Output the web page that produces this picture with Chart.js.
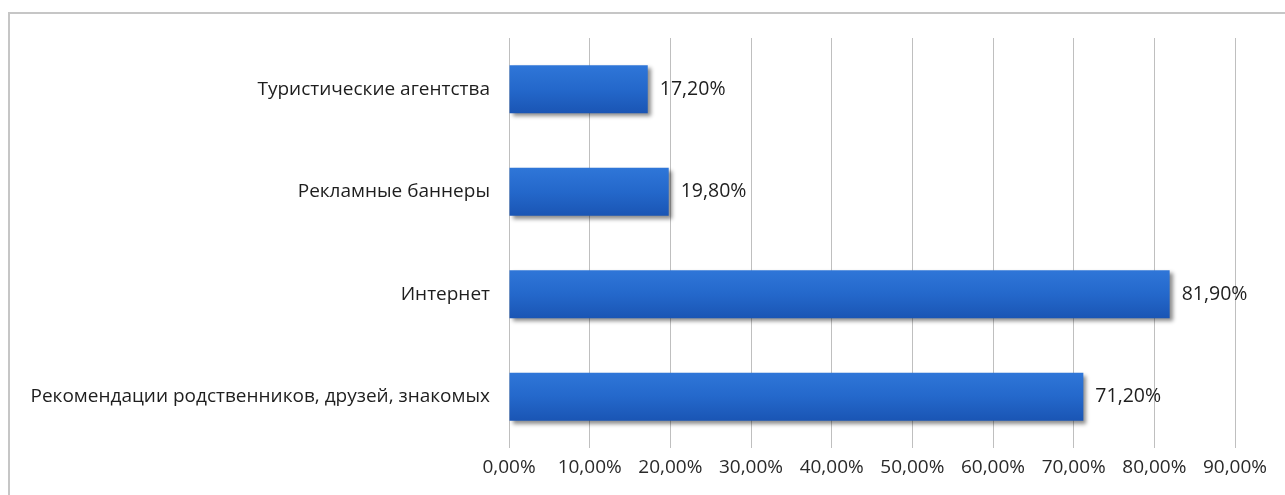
<!DOCTYPE html>
<html>
<head>
<meta charset="utf-8">
<script src="https://cdn.jsdelivr.net/npm/chart.js@4/dist/chart.umd.min.js"></script>
<style>
  html, body { margin: 0; padding: 0; background: #fff; }
  #wrap { position: relative; width: 1285px; height: 495px; overflow: hidden; }
  #frame { position: absolute; left: 8px; top: 12px; width: 1300px; height: 520px; border: 2px solid #c6c6c6; box-sizing: border-box; }
  canvas { position: absolute; left: 0; top: 0; }
</style>
</head>
<body>
<div id="wrap">
  <div id="frame"></div>
  <canvas id="c" width="1285" height="495"></canvas>
</div>
<script>
const categories = [
  "Туристические агентства",
  "Рекламные баннеры",
  "Интернет",
  "Рекомендации родственников, друзей, знакомых"
];
const values = [17.2, 19.8, 81.9, 71.2];
const axisMin = 0;
const axisMax = 90;
const axisStep = 10;

const fmt = v => v.toFixed(2).replace('.', ',') + '%';
const FONT = "'Open Sans', sans-serif";

const shadowPlugin = {
  id: 'barShadow',
  beforeDatasetsDraw(chart) {
    const ctx = chart.ctx;
    ctx.save();
    ctx.shadowColor = 'rgba(0,0,0,0.45)';
    ctx.shadowOffsetX = 3;
    ctx.shadowOffsetY = 3;
    ctx.shadowBlur = 4;
  },
  afterDatasetsDraw(chart) {
    chart.ctx.restore();
  }
};

const labelPlugin = {
  id: 'valueLabels',
  afterDatasetsDraw(chart) {
    const ctx = chart.ctx;
    const meta = chart.getDatasetMeta(0);
    ctx.save();
    ctx.font = "19.5px " + FONT;
    ctx.fillStyle = '#1e1e1e';
    ctx.textAlign = 'left';
    ctx.textBaseline = 'middle';
    meta.data.forEach((bar, i) => {
      ctx.fillText(fmt(values[i]), bar.x + 12, bar.y);
    });
    ctx.restore();
  }
};

new Chart(document.getElementById('c'), {
  type: 'bar',
  data: {
    labels: categories,
    datasets: [{
      data: values,
      backgroundColor(context) {
        const chart = context.chart;
        const ys = chart.scales && chart.scales.y;
        if (!ys || context.dataIndex === undefined) return '#2366c8';
        const cy = ys.getPixelForValue(context.dataIndex);
        if (!isFinite(cy)) return '#2366c8';
        const g = chart.ctx.createLinearGradient(0, cy - 24, 0, cy + 24);
        g.addColorStop(0, '#2f76d8');
        g.addColorStop(0.5, '#2468cb');
        g.addColorStop(1, '#1a55b4');
        return g;
      },
      borderWidth: 0,
      barPercentage: 0.468,
      categoryPercentage: 1.0
    }]
  },
  options: {
    indexAxis: 'y',
    responsive: false,
    animation: false,
    layout: { padding: { left: 0, right: 50, top: 38, bottom: 0 } },
    plugins: { legend: { display: false }, tooltip: { enabled: false } },
    scales: {
      x: {
        min: axisMin, max: axisMax,
        ticks: { stepSize: axisStep, callback: v => fmt(v), color: '#2a2a2a', font: { family: FONT, size: 19 }, padding: 8, maxRotation: 0 },
        grid: { color: '#bfbfbf', lineWidth: 1, drawTicks: false },
        border: { display: false },
        afterFit(s) { s.height = 47; }
      },
      y: {
        ticks: { color: '#1e1e1e', font: { family: FONT, size: 19 }, padding: 19 },
        grid: { display: false, drawTicks: false },
        border: { display: false },
        afterFit(s) { s.width = 509; }
      }
    }
  },
  plugins: [shadowPlugin, labelPlugin]
});
</script>
</body>
</html>
